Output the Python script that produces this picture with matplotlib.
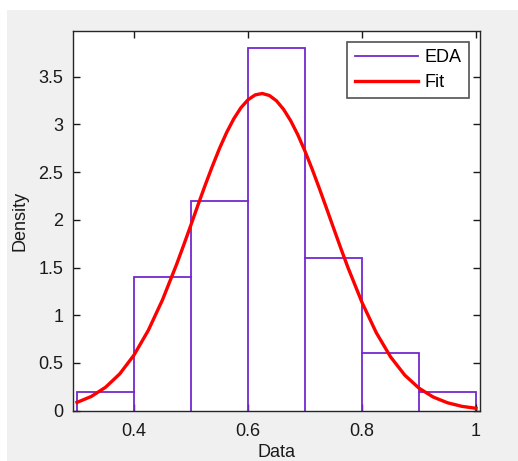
import matplotlib.pyplot as plt
from matplotlib.patches import Rectangle

# histogram (bin edges and density heights)
bin_edges = [0.3, 0.4, 0.5, 0.6, 0.7, 0.8, 0.9, 1.0]
bin_density = [0.2, 1.4, 2.2, 3.8, 1.6, 0.6, 0.2]

# fitted curve
fit_x = [0.300, 0.325, 0.350, 0.375, 0.400, 0.425, 0.450, 0.475, 0.4875, 0.500,
         0.5125, 0.525, 0.5375, 0.550, 0.5625, 0.575, 0.5875, 0.600, 0.6125,
         0.625, 0.6375, 0.650, 0.6625, 0.675, 0.6875, 0.700, 0.7125, 0.725,
         0.7375, 0.750, 0.7625, 0.775, 0.800, 0.825, 0.850, 0.875, 0.900,
         0.925, 0.950, 0.975, 1.000]
fit_y = [0.087, 0.149, 0.245, 0.386, 0.583, 0.841, 1.162, 1.538, 1.741, 1.949,
         2.160, 2.366, 2.563, 2.749, 2.916, 3.059, 3.175, 3.259, 3.310,
         3.325, 3.304, 3.248, 3.158, 3.038, 2.891, 2.720, 2.533, 2.333,
         2.126, 1.916, 1.708, 1.506, 1.135, 0.818, 0.565, 0.373, 0.236,
         0.143, 0.083, 0.046, 0.025]

xticks = [0.4, 0.6, 0.8, 1.0]
xtick_labels = ["0.4", "0.6", "0.8", "1"]
yticks = [0, 0.5, 1, 1.5, 2, 2.5, 3, 3.5]
ytick_labels = ["0", "0.5", "1", "1.5", "2", "2.5", "3", "3.5"]

plt.rcParams['font.family'] = ['Liberation Sans', 'DejaVu Sans']

W, H = 518, 461
fig = plt.figure(figsize=(W / 100, H / 100), dpi=100, facecolor='white')
fig.patches.append(Rectangle((7 / W, 0), 1, 1 - 10 / H, transform=fig.transFigure,
                             facecolor='#f0f0f0', edgecolor='none', zorder=-10))

ax = fig.add_axes([73 / W, 1 - 410.7 / H, (480 - 73) / W, (410.7 - 31) / H])
ax.set_facecolor('white')

purple = '#7428d0'
ax.stairs(bin_density, bin_edges, color=purple, linewidth=1.3, label='EDA')
for e, h0, h1 in zip(bin_edges[1:-1], bin_density[:-1], bin_density[1:]):
    ax.plot([e, e], [0, min(h0, h1)], color=purple, linewidth=1.3)
ax.plot(fit_x, fit_y, color='#ff0000', linewidth=2.4, label='Fit')

ax.set_xlim(0.293, 1.007)
ax.set_ylim(0, 3.98)
ax.set_xticks(xticks)
ax.set_xticklabels(xtick_labels)
ax.set_yticks(yticks)
ax.set_yticklabels(ytick_labels)
ax.tick_params(direction='in', top=True, right=True, length=5, width=1,
               labelsize=13, colors='#1a1a1a', pad=7)
ax.tick_params(axis='x', pad=9)
for s in ax.spines.values():
    s.set_color('#262626')
    s.set_linewidth(1)

ax.set_xlabel('Data', fontsize=13, color='#1a1a1a', labelpad=3)
ax.set_ylabel('Density', fontsize=13, color='#1a1a1a', labelpad=7)

leg = ax.legend(loc='upper right', fontsize=13, frameon=True, fancybox=False,
                edgecolor='#262626', handlelength=3.5, borderaxespad=0.6,
                handletextpad=0.4, labelspacing=0.45)
leg.get_frame().set_linewidth(1.2)

fig.savefig('out.png', dpi=100, facecolor=fig.get_facecolor())
